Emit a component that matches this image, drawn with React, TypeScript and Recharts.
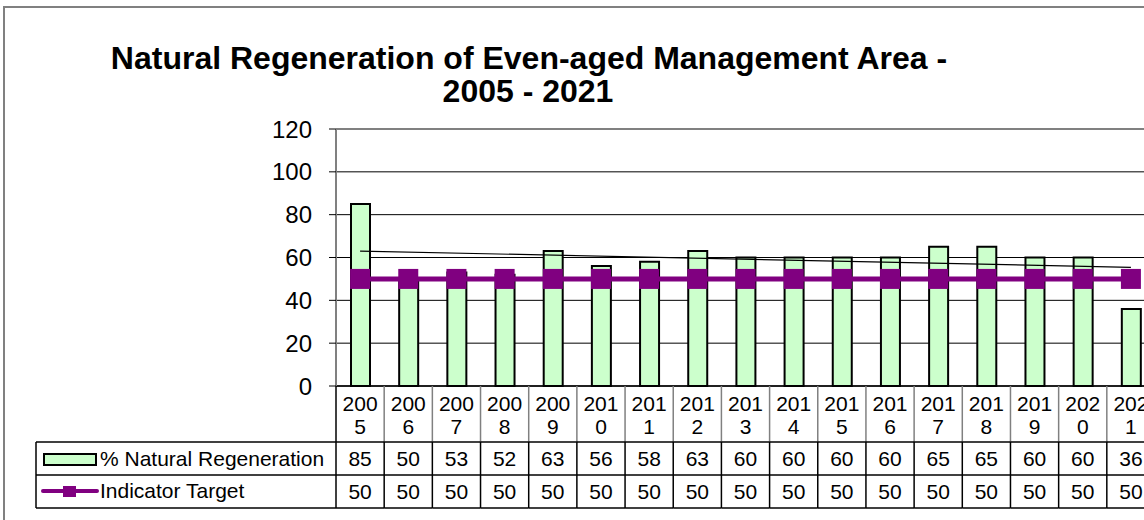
import React from 'react';
import {
    ComposedChart,
    Bar,
    Line,
    XAxis,
    YAxis,
    CartesianGrid,
    ReferenceLine,
} from 'recharts';

const years = ['2005', '2006', '2007', '2008', '2009', '2010', '2011', '2012', '2013', '2014', '2015', '2016', '2017', '2018', '2019', '2020', '2021'];
const naturalRegen = [85, 50, 53, 52, 63, 56, 58, 63, 60, 60, 60, 60, 65, 65, 60, 60, 36];
const indicatorTarget = [50, 50, 50, 50, 50, 50, 50, 50, 50, 50, 50, 50, 50, 50, 50, 50, 50];
// linear trendline end points
const trendEnds = [63.0, 55.4];
const yTicks = [0, 20, 40, 60, 80, 100, 120];

const chartData = years.map((year, i) => ({
    year,
    regen: naturalRegen[i],
    target: indicatorTarget[i],
    trend: i === 0 ? trendEnds[0] : i === years.length - 1 ? trendEnds[1] : null,
}));

// layout
const CHART_W = 1180;
const CHART_H = 520;
const PLOT_LEFT = 336;
const PLOT_RIGHT = 1155;
const PLOT_TOP = 129;
const PLOT_BOTTOM = 386;
const COL_W = (PLOT_RIGHT - PLOT_LEFT) / years.length;
const ROW1 = 442;
const ROW2 = 475;
const ROW3 = 508;
const TABLE_LEFT = 36;
const FONT = 'Arial, "Liberation Sans", sans-serif';

const GREEN = '#CCFFCC';
const PURPLE = '#800080';

function TableTick(props: any) {
    const { x, payload, index } = props;
    const left = x - COL_W / 2;
    const right = x + COL_W / 2;
    const label = String(payload.value);
    return (
        <g fontFamily={FONT} fill="#000">
            {index === 0 && (
                <g>
                    <line x1={TABLE_LEFT} x2={PLOT_LEFT} y1={ROW1} y2={ROW1} stroke="#000" strokeWidth={1.5} />
                    <line x1={TABLE_LEFT} x2={PLOT_LEFT} y1={ROW2} y2={ROW2} stroke="#000" strokeWidth={1.5} />
                    <line x1={TABLE_LEFT} x2={PLOT_LEFT} y1={ROW3} y2={ROW3} stroke="#000" strokeWidth={1.5} />
                    <line x1={TABLE_LEFT} x2={TABLE_LEFT} y1={ROW1} y2={ROW3} stroke="#000" strokeWidth={1.5} />
                    <line x1={PLOT_LEFT} x2={PLOT_LEFT} y1={PLOT_BOTTOM} y2={ROW3} stroke="#000" strokeWidth={1.5} />
                    <rect x={44} y={454} width={52} height={11} fill={GREEN} stroke="#000" strokeWidth={2} />
                    <text x={100} y={466} fontSize={21}>% Natural Regeneration</text>
                    <line x1={43} x2={97} y1={491} y2={491} stroke={PURPLE} strokeWidth={4} strokeLinecap="round" />
                    <rect x={63} y={486} width={13} height={11} fill={PURPLE} />
                    <text x={100} y={498} fontSize={21}>Indicator Target</text>
                </g>
            )}
            <line x1={right} x2={right} y1={PLOT_BOTTOM} y2={ROW1} stroke="#808080" strokeWidth={1.5} />
            <line x1={right} x2={right} y1={ROW1} y2={ROW3} stroke="#000" strokeWidth={1.5} />
            <line x1={left} x2={right} y1={ROW1} y2={ROW1} stroke="#000" strokeWidth={1.5} />
            <line x1={left} x2={right} y1={ROW2} y2={ROW2} stroke="#000" strokeWidth={1.5} />
            <line x1={left} x2={right} y1={ROW3} y2={ROW3} stroke="#000" strokeWidth={1.5} />
            <text x={x} y={411} textAnchor="middle" fontSize={21}>{label.slice(0, 3)}</text>
            <text x={x} y={434} textAnchor="middle" fontSize={21}>{label.slice(3)}</text>
            <text x={x} y={466} textAnchor="middle" fontSize={21}>{naturalRegen[index]}</text>
            <text x={x} y={499} textAnchor="middle" fontSize={21}>{indicatorTarget[index]}</text>
        </g>
    );
}

function SquareDot(props: any) {
    const { cx, cy } = props;
    if (cx == null || cy == null) return null;
    return <rect x={cx - 10} y={cy - 10} width={20} height={20} fill={PURPLE} />;
}

function App() {
    return (
        <div style={{ position: 'absolute', left: 0, top: 0, width: 1144, height: 520, overflow: 'hidden', background: '#fff' }}>
            {/* outer chart frame */}
            <div style={{ position: 'absolute', left: 3, top: 6, width: 1200, height: 600, borderLeft: '2px solid #808080', borderTop: '2px solid #808080' }} />
            <svg style={{ position: 'absolute', left: 0, top: 0 }} width={1144} height={120}>
                <g fontFamily={FONT} fontWeight="bold" fontSize={32} fill="#000" textAnchor="middle">
                    <text x={529} y={69}>Natural Regeneration of Even-aged Management Area -</text>
                    <text x={528} y={102}>2005 - 2021</text>
                </g>
            </svg>
            <div style={{ position: 'absolute', left: 0, top: 0 }}>
                <ComposedChart
                    width={CHART_W}
                    height={CHART_H}
                    data={chartData}
                    margin={{ top: PLOT_TOP, right: CHART_W - PLOT_RIGHT, left: 0, bottom: 0 }}
                    barCategoryGap={0}
                >
                    <CartesianGrid horizontal vertical={false} stroke="#000" strokeWidth={1} />
                    <ReferenceLine y={120} stroke="#808080" strokeWidth={2} />
                    <XAxis
                        dataKey="year"
                        height={CHART_H - PLOT_BOTTOM}
                        axisLine={{ stroke: '#000', strokeWidth: 1.5 }}
                        tickLine={false}
                        tickSize={0}
                        tickMargin={0}
                        interval={0}
                        tick={<TableTick />}
                    />
                    <YAxis
                        width={PLOT_LEFT}
                        domain={[0, 120]}
                        ticks={yTicks}
                        interval={0}
                        axisLine={{ stroke: '#808080', strokeWidth: 2 }}
                        tickLine={{ stroke: '#000' }}
                        tickSize={7}
                        tickMargin={17}
                        tick={{ fontSize: 24, fill: '#000', fontFamily: FONT }}
                    />
                    <Bar
                        dataKey="regen"
                        barSize={19}
                        fill={GREEN}
                        stroke="#000"
                        strokeWidth={2}
                        isAnimationActive={false}
                    />
                    <Line
                        dataKey="target"
                        type="linear"
                        stroke={PURPLE}
                        strokeWidth={5}
                        dot={<SquareDot />}
                        activeDot={false}
                        isAnimationActive={false}
                    />
                    <Line
                        dataKey="trend"
                        type="linear"
                        stroke="#000"
                        strokeWidth={1.2}
                        dot={false}
                        activeDot={false}
                        connectNulls
                        isAnimationActive={false}
                    />
                </ComposedChart>
            </div>
        </div>
    );
}

export default App;
